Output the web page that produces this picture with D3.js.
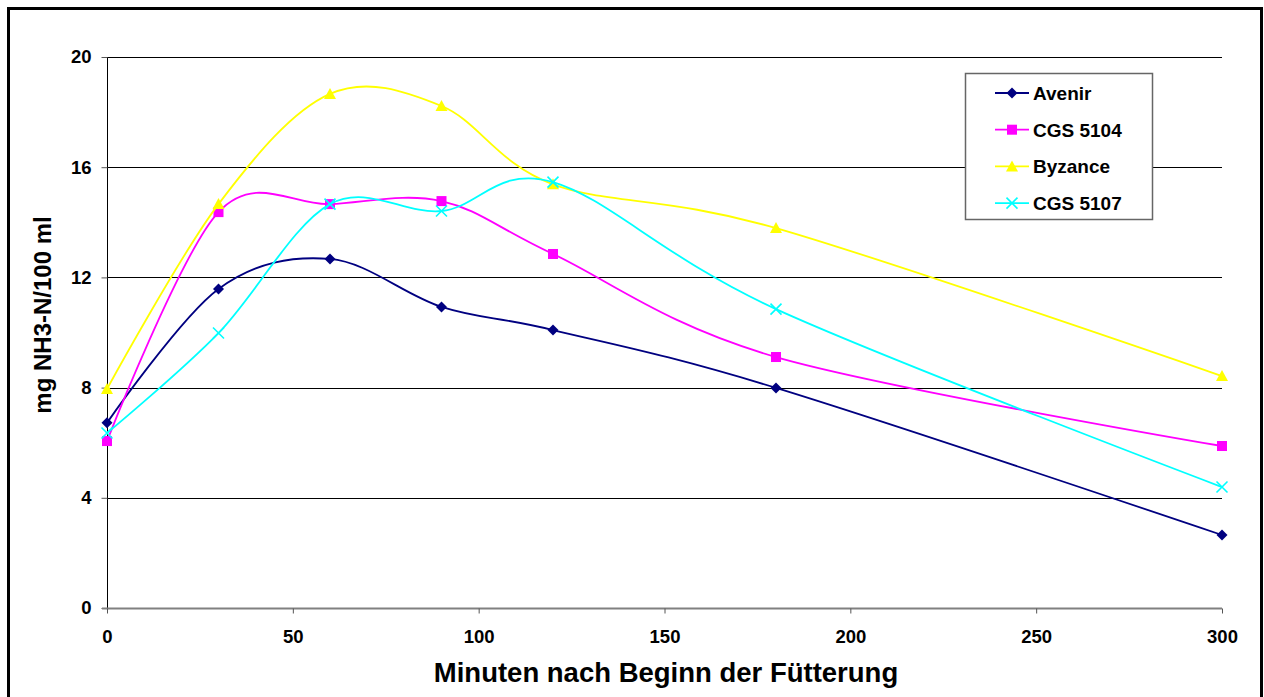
<!DOCTYPE html>
<html>
<head>
<meta charset="utf-8">
<script src="https://cdn.jsdelivr.net/npm/d3@7"></script>
<style>
  html, body { margin: 0; padding: 0; background: #fff; }
  svg { display: block; font-family: "Liberation Sans", Arial, sans-serif; }
</style>
</head>
<body>
<svg id="chart" width="1264" height="697"></svg>
<script>
// Time after feeding (minutes)
const minutes = [0, 30, 60, 90, 120, 180, 300];

// NH3-N concentration per variety (mg / 100 ml)
const avenir  = [6.72, 11.58, 12.67, 10.93, 10.09, 7.99, 2.65];
const cgs5104 = [6.06, 14.37, 14.66, 14.77, 12.85, 9.11, 5.88];
const byzance = [7.95, 14.66, 18.66, 18.22, 15.38, 13.79, 8.42];
const cgs5107 = [6.35, 9.98, 14.66, 14.41, 15.46, 10.85, 4.39];

const seriesNames = ["Avenir", "CGS 5104", "Byzance", "CGS 5107"];
const seriesValues = [avenir, cgs5104, byzance, cgs5107];

const xTicks = [0, 50, 100, 150, 200, 250, 300];
const yTicks = [0, 4, 8, 12, 16, 20];

const xTitle = "Minuten nach Beginn der Fütterung";
const yTitle = "mg NH3-N/100 ml";

const colors = ["#000080", "#FF00FF", "#FFFF00", "#00FFFF"];
const symbols = ["diamond", "square", "triangle", "cross"];

const svg = d3.select("#chart");

// outer frame
svg.append("rect")
  .attr("x", 8.5).attr("y", 8.5)
  .attr("width", 1253).attr("height", 700)
  .attr("fill", "#fff").attr("stroke", "#000").attr("stroke-width", 3);

const x = d3.scaleLinear().domain([0, 300]).range([107, 1222]);
const y = d3.scaleLinear().domain([0, 20]).range([608, 57]);

// horizontal gridlines
svg.append("g")
  .selectAll("line")
  .data(yTicks.filter(d => d > 0))
  .join("line")
  .attr("x1", x(0)).attr("x2", x(300))
  .attr("y1", d => Math.round(y(d)) + 0.5).attr("y2", d => Math.round(y(d)) + 0.5)
  .attr("stroke", "#000").attr("stroke-width", 1);

const tickFont = 18.5;

// y axis
const yAxis = svg.append("g")
  .attr("transform", `translate(${x(0) + 0.5},0)`)
  .call(d3.axisLeft(y).tickValues(yTicks).tickSize(6).tickPadding(10).tickFormat(d3.format("d")));
yAxis.attr("font-size", tickFont).attr("font-family", "Liberation Sans, Arial, sans-serif");
yAxis.select(".domain").attr("stroke", "#000").attr("d", `M0,${y(20)}V${y(0)}`);
yAxis.selectAll(".tick line").attr("stroke", "#555");
yAxis.selectAll(".tick text")
  .attr("font-weight", "bold").attr("fill", "#000");

// x axis
const xAxis = svg.append("g")
  .attr("transform", `translate(0,${Math.round(y(0)) + 0.5})`)
  .call(d3.axisBottom(x).tickValues(xTicks).tickSize(5).tickPadding(16).tickFormat(d3.format("d")));
xAxis.attr("font-size", tickFont).attr("font-family", "Liberation Sans, Arial, sans-serif");
xAxis.select(".domain").attr("stroke", "#808080").attr("stroke-width", 2)
  .attr("d", `M${x(0) - 5},0H${x(300)}`);
xAxis.selectAll(".tick line").attr("stroke", "#555");
xAxis.selectAll(".tick text")
  .attr("font-weight", "bold").attr("fill", "#000");

// axis titles
svg.append("text")
  .attr("x", 666).attr("y", 682)
  .attr("text-anchor", "middle")
  .attr("font-size", 27.5).attr("font-weight", "bold")
  .text(xTitle);

svg.append("text")
  .attr("transform", `translate(51,315) rotate(-90)`)
  .attr("text-anchor", "middle")
  .attr("font-size", 24).attr("font-weight", "bold")
  .text(yTitle);

// marker drawing
function drawMarker(g, type, color) {
  if (type === "diamond") {
    g.append("path").attr("d", "M0,-5.5L5.5,0L0,5.5L-5.5,0Z").attr("fill", color);
  } else if (type === "square") {
    g.append("rect").attr("x", -5).attr("y", -5).attr("width", 10).attr("height", 10).attr("fill", color);
  } else if (type === "triangle") {
    g.append("path").attr("d", "M0,-6L6,5L-6,5Z").attr("fill", color);
  } else {
    g.append("path").attr("d", "M-5.5,-5.5L5.5,5.5M-5.5,5.5L5.5,-5.5").attr("stroke", color).attr("stroke-width", 1.6).attr("fill", "none");
  }
}

const line = d3.line()
  .x(d => x(d[0]))
  .y(d => y(d[1]))
  .curve(d3.curveCardinal.tension(0));

seriesValues.forEach((vals, i) => {
  const pts = minutes.map((m, j) => [m, vals[j]]);
  const g = svg.append("g");
  g.append("path")
    .attr("d", line(pts))
    .attr("fill", "none")
    .attr("stroke", colors[i])
    .attr("stroke-width", 1.8);
  pts.forEach(p => {
    const mg = g.append("g").attr("transform", `translate(${x(p[0])},${y(p[1])})`);
    drawMarker(mg, symbols[i], colors[i]);
  });
});

// legend
const legend = svg.append("g");
legend.append("rect")
  .attr("x", 965.5).attr("y", 73.5).attr("width", 187).attr("height", 146)
  .attr("fill", "#fff").attr("stroke", "#666").attr("stroke-width", 1.5);

seriesNames.forEach((name, i) => {
  const cy = 93 + i * 36.7;
  const eg = legend.append("g");
  eg.append("line").attr("x1", 995).attr("x2", 1029).attr("y1", cy).attr("y2", cy)
    .attr("stroke", colors[i]).attr("stroke-width", 1.8);
  drawMarker(eg.append("g").attr("transform", `translate(1012,${cy})`), symbols[i], colors[i]);
  eg.append("text").attr("x", 1033).attr("y", cy + 7)
    .attr("font-size", 19).attr("font-weight", "bold").text(name);
});
</script>
</body>
</html>
